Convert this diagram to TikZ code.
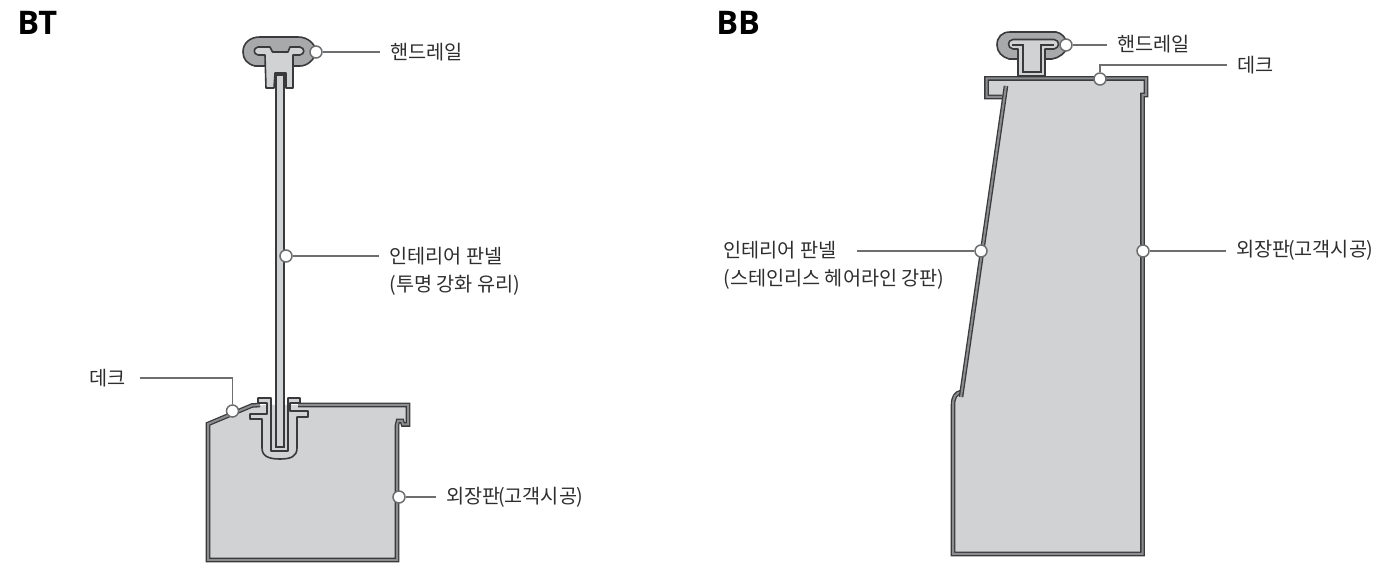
\documentclass[tikz,border=0pt]{standalone}
\usepackage{fontspec}
\setmainfont{Noto Sans CJK KR}
\newfontfamily\titlefont{Open Sans}
\usepackage{tikz}
\definecolor{paneltone}{HTML}{D1D2D4}
\definecolor{inktone}{HTML}{3A3A3C}
\definecolor{midtone}{HTML}{8C8D8F}
\definecolor{leadtone}{HTML}{6D6E70}
\tikzset{
    wall/.style={draw=inktone, line width=0.026cm, double=midtone, double distance=0.04cm, line join=miter},
    sheet/.style={draw=inktone, line width=0.032cm, fill=paneltone, line join=round},
    thinline/.style={draw=inktone, line width=0.03cm, fill=paneltone},
    leader/.style={draw=leadtone, line width=0.024cm},
    dot/.style={circle, draw=leadtone, fill=white, line width=0.03cm, minimum size=0.24cm, inner sep=0pt},
    lbl/.style={font=\fontsize{11.2pt}{13pt}\selectfont, text=black!82, inner ysep=0pt, inner xsep=0.2cm},
    ttl/.style={font=\titlefont\bfseries\fontsize{18.5pt}{21pt}\selectfont, inner sep=0pt, anchor=west}
}

\begin{document}
\begin{tikzpicture}[x=0.02cm, y=-0.02cm]
    \useasboundingbox (0,0) rectangle (1376,563);

    % === LEFT: BT ===
    \node[ttl] (titleBT) at (17,23) {BT};

    % Body and deck
    \fill[paneltone] (208,560) -- (208,425) -- (252,406) -- (267,405) -- (408,405) -- (408,424)
        -- (402,424) -- (397,424) -- (397,560) -- cycle;
    \draw[wall] (260,405) -- (252,405.5) -- (208,424) -- (208,560) -- (397,560) -- (397,425) -- (398,421)
        -- (402,421) -- (403,424.5) -- (408,424.5) -- (408,405) -- (298,405);

    % Glass panel
    \draw[thinline] (276,447) rectangle (284,75);

    % Channel in the deck
    \draw[sheet] (258,398) -- (271,398) -- (271,451) -- (288,451) -- (288,398) -- (300,398) -- (300,403)
        -- (290,403) -- (290,411) -- (308,411) -- (308,417) -- (297,417) -- (297,448)
        .. controls (297,457) and (290,459) .. (280,459) .. controls (270,459) and (262,457) .. (262,448)
        -- (262,419) -- (250,419) -- (250,414) -- (267,414) -- (267,403) -- (258,403) -- cycle;

    % Handrail
    \draw[sheet, fill=midtone!60!paneltone] (263,66) -- (255,66) .. controls (247,64) and (243,59) .. (243,52)
        .. controls (243,43) and (250,37) .. (260,37) -- (298,37)
        .. controls (308,37) and (315,44) .. (316,51) .. controls (315,60) and (307,66) .. (300,66) -- cycle;
    \draw[sheet] (258,47) -- (270,47) -- (272.5,52) -- (288,52) -- (290,47) -- (300,47)
        .. controls (305,48) and (305,54) .. (300,55) -- (293,55) -- (293,88) -- (286,88) -- (286,73)
        -- (275,73) -- (274,88) -- (266,88) -- (265,55) -- (258,55) .. controls (253,54) and (253,48) .. (258,47) -- cycle;
    \draw[thinline] (276,75) -- (276,100) (284,75) -- (284,100);

    % Leaders and labels
    \node[dot] (dotRailT) at (316,52) {};
    \node[lbl, anchor=west] (lblRailT) at (380,52) {핸드레일};
    \draw[leader] (dotRailT) -- (lblRailT);

    \node[dot] (dotPanelT) at (286,256) {};
    \node[lbl, anchor=west] (lblPanelT) at (379,256) {인테리어 판넬};
    \node[lbl, anchor=west] (lblGlassT) at (379,285) {(투명 강화 유리)};
    \draw[leader] (dotPanelT) -- (lblPanelT);

    \node[dot] (dotDeckT) at (232.5,411) {};
    \node[lbl, anchor=east, inner xsep=0.28cm] (lblDeckT) at (140,378) {데크};
    \draw[leader] (dotDeckT) |- (lblDeckT);

    \node[dot] (dotSkinT) at (399,497) {};
    \node[lbl, anchor=west] (lblSkinT) at (436,497) {외장판\kern-1.5pt(고객시공\kern-.5pt)};
    \draw[leader] (dotSkinT) -- (lblSkinT);

    % === RIGHT: BB ===
    \node[ttl] (titleBB) at (716,23) {BB};

    % Body and deck
    \fill[paneltone] (953,554) -- (953,405) -- (960,393) -- (963,393) -- (1003,97) -- (986,97) -- (986,78)
        -- (1146,78) -- (1146,95) -- (1142,95) -- (1142,554) -- cycle;
    \draw[wall] (1002,97) -- (986.5,97) -- (986.5,78.5) -- (1146,78.5) -- (1146,95) -- (1142.5,95) -- (1142.5,554)
        -- (953,554) -- (953,405) .. controls (953,397) and (956,393) .. (961,392);

    % Slanted panel
    \draw[wall] (1006,86) -- (961,397);

    % Handrail
    \draw[sheet, fill=midtone!60!paneltone] (1015,59) -- (1009,59) .. controls (1002,57) and (997,52) .. (997,45)
        .. controls (997,37) and (1002,32) .. (1010,32) -- (1056,32)
        .. controls (1062,33) and (1066,38) .. (1068,45) .. controls (1066,53) and (1059,58) .. (1052,59) -- cycle;
    \draw[sheet] (1013,39.5) -- (1054,39.5) .. controls (1060,40) and (1060,48) .. (1054,49) -- (1045,49) -- (1045,76)
        -- (1018,76) -- (1018,49) -- (1013,49) .. controls (1007,48) and (1007,40) .. (1013,39.5) -- cycle;
    \draw[draw=inktone, line width=0.03cm] (1012,45) -- (1023,45) -- (1023,72) -- (1041,72) -- (1041,45) -- (1054,45);

    % Leaders and labels
    \node[dot] (dotRailB) at (1066,45) {};
    \node[lbl, anchor=west] (lblRailB) at (1107,44) {핸드레일};
    \draw[leader] (dotRailB) -- (lblRailB.west |- dotRailB);

    \node[dot] (dotDeckB) at (1100,79) {};
    \node[lbl, anchor=west] (lblDeckB) at (1227,65) {데크};
    \draw[leader] (dotDeckB) |- (lblDeckB);

    \node[dot] (dotPanelB) at (981,251) {};
    \node[lbl, anchor=west, inner xsep=0.4cm] (lblPanelB) at (703,250) {인테리어 판넬};
    \node[lbl, anchor=west] (lblSteelB) at (713,279) {(스테인리스 헤어라인 강판)};
    \draw[leader] (dotPanelB) -- (lblPanelB.east |- dotPanelB);

    \node[dot] (dotSkinB) at (1143,251) {};
    \node[lbl, anchor=west] (lblSkinB) at (1226,250) {외장판\kern-1.5pt(고객시공\kern-.5pt)};
    \draw[leader] (dotSkinB) -- (lblSkinB.west |- dotSkinB);
\end{tikzpicture}
\end{document}
